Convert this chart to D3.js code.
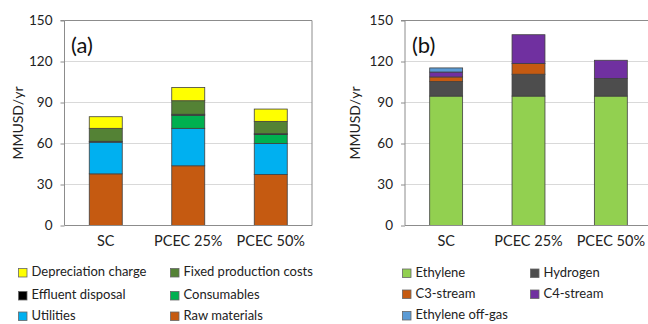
<!DOCTYPE html>
<html>
<head>
<meta charset="utf-8">
<script src="https://cdn.jsdelivr.net/npm/d3@7"></script>
<style>
  html, body { margin: 0; padding: 0; background: #fff; }
  svg { display: block; font-family: Lato, "Open Sans", sans-serif; }
</style>
</head>
<body>
<svg id="chart" width="648" height="324"></svg>
<script>
// Categories shared by both panels
const categories = ["SC", "PCEC 25%", "PCEC 50%"];
const yTicks = [0, 30, 60, 90, 120, 150];

// Panel (a): cost breakdown, stacked bottom to top (MMUSD/yr)
const costSeries = ["Raw materials", "Utilities", "Consumables", "Effluent disposal", "Fixed production costs", "Depreciation charge"];
const rawMaterials   = [37.8, 43.7, 37.4];
const utilities      = [23.2, 27.4, 22.6];
const consumables    = [0.0, 9.6, 6.6];
const effluent       = [0.6, 0.7, 0.6];
const fixedCosts     = [9.5, 9.9, 9.0];
const depreciation   = [8.5, 9.7, 9.0];
const costColors = ["#C55A11", "#00B0F0", "#00B050", "#000000", "#548235", "#FFFF00"];
const costLegend = ["Depreciation charge", "Fixed production costs", "Effluent disposal", "Consumables", "Utilities", "Raw materials"];

// Panel (b): revenue breakdown, stacked bottom to top (MMUSD/yr)
const revSeries = ["Ethylene", "Hydrogen", "C3-stream", "C4-stream", "Ethylene off-gas"];
const ethylene  = [94.7, 94.7, 94.7];
const hydrogen  = [10.6, 16.0, 12.9];
const c3stream  = [3.4, 7.8, 0.0];
const c4stream  = [3.6, 21.1, 13.3];
const offgas    = [3.0, 0.0, 0.0];
const revColors = ["#92D050", "#4D4D4D", "#C55A11", "#7030A0", "#5B9BD5"];
const revLegend = ["Ethylene", "Hydrogen", "C3-stream", "C4-stream", "Ethylene off-gas"];

const svg = d3.select("#chart");
const plotTop = 20.5, plotBottom = 225.5;

function panel(opts) {
  const { x0, x1, seriesNames, values, colors, tag, legendItems, legend, rightBorder } = opts;
  const g = svg.append("g");
  const x = d3.scaleBand().domain(categories).range([x0, x1]).paddingInner(0.6).paddingOuter(0.3);
  const y = d3.scaleLinear().domain([0, 150]).range([plotBottom, plotTop]);

  // gridlines
  g.append("g").selectAll("line").data(yTicks.filter(t => t > 0 && t < 150)).join("line")
    .attr("x1", x0).attr("x2", x1).attr("y1", d => y(d)).attr("y2", d => y(d))
    .attr("stroke", "#d9d9d9").attr("stroke-width", 1);

  // frame: top border, optional right border
  g.append("line").attr("x1", x0).attr("x2", x1).attr("y1", plotTop).attr("y2", plotTop)
    .attr("stroke", "#8c8c8c").attr("stroke-width", 1);
  if (rightBorder) {
    g.append("line").attr("x1", x1).attr("x2", x1).attr("y1", plotTop).attr("y2", plotBottom)
      .attr("stroke", "#8c8c8c").attr("stroke-width", 1);
  }

  // stacked bars
  const rows = categories.map((c, i) => {
    const r = { cat: c };
    seriesNames.forEach((s, j) => r[s] = values[j][i]);
    return r;
  });
  const stacked = d3.stack().keys(seriesNames)(rows);
  g.append("g").selectAll("g").data(stacked).join("g")
    .attr("fill", (d, i) => colors[i])
    .selectAll("rect").data(d => d.filter(p => p[1] - p[0] > 0)).join("rect")
    .attr("x", d => x(d.data.cat))
    .attr("width", x.bandwidth())
    .attr("y", d => y(d[1]))
    .attr("height", d => y(d[0]) - y(d[1]))
    .attr("stroke", "#404040").attr("stroke-width", 0.8);

  // y axis
  const ya = d3.axisLeft(y).tickValues(yTicks).tickSize(4).tickPadding(8).tickFormat(d3.format("d"));
  const yg = g.append("g").attr("transform", `translate(${x0},0)`).call(ya);
  yg.select(".domain").attr("stroke", "#8c8c8c").attr("d", `M-4,${plotTop}H0V${plotBottom}`);
  yg.selectAll(".tick line").attr("stroke", "#8c8c8c");
  yg.selectAll("text").attr("font-size", 13.5).attr("fill", "#222").attr("font-family", "Lato, sans-serif");

  // x axis
  const xa = d3.axisBottom(x).tickSize(0).tickPadding(10);
  const xg = g.append("g").attr("transform", `translate(0,${plotBottom})`).call(xa);
  xg.select(".domain").attr("stroke", "#8c8c8c").attr("d", `M${x0},0H${x1}`);
  xg.selectAll("text").attr("font-size", 14.5).attr("fill", "#222").attr("font-family", "Lato, sans-serif");

  // y title
  g.append("text")
    .attr("transform", `translate(${opts.titleX},123) rotate(-90)`)
    .attr("text-anchor", "middle").attr("dominant-baseline", "middle")
    .attr("font-size", 14).attr("fill", "#222").text("MMUSD/yr");

  // panel tag
  g.append("text").attr("x", opts.tagX).attr("y", 53)
    .attr("font-size", 22).attr("fill", "#111").text(tag);

  // legend
  const lg = g.append("g");
  legendItems.forEach((name, i) => {
    const col = i % 2, row = Math.floor(i / 2);
    const sx = legend.cols[col], sy = legend.rows[row];
    const color = colors[seriesNames.indexOf(name)];
    lg.append("rect").attr("x", sx).attr("y", sy - 4.5).attr("width", 8.5).attr("height", 8.5)
      .attr("fill", color).attr("stroke", "#666").attr("stroke-width", 0.8);
    lg.append("text").attr("x", sx + 13).attr("y", sy).attr("dominant-baseline", "middle")
      .attr("font-size", 13).attr("fill", "#222").text(name);
  });
}

panel({
  x0: 64.5, x1: 312, seriesNames: costSeries,
  values: [rawMaterials, utilities, consumables, effluent, fixedCosts, depreciation],
  colors: costColors, tag: "(a)", tagX: 71, titleX: 19, rightBorder: true,
  legendItems: costLegend, legend: { cols: [18.5, 170.5], rows: [273, 296, 316.5] }
});

panel({
  x0: 405, x1: 652, seriesNames: revSeries,
  values: [ethylene, hydrogen, c3stream, c4stream, offgas],
  colors: revColors, tag: "(b)", tagX: 412, titleX: 356, rightBorder: false,
  legendItems: revLegend, legend: { cols: [402.5, 530.5], rows: [273.5, 294.5, 316] }
});
</script>
</body>
</html>
